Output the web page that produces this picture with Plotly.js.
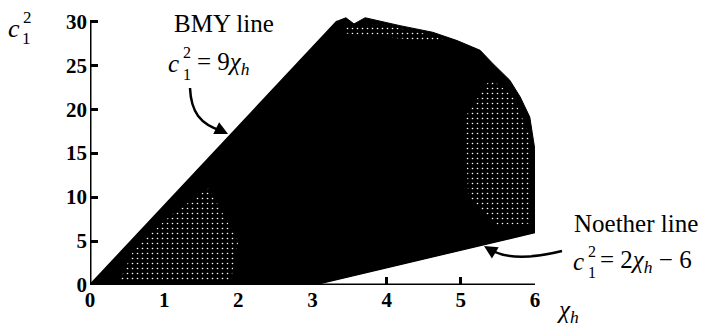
<!DOCTYPE html>
<html>
<head>
<meta charset="utf-8">
<script src="https://cdn.plot.ly/plotly-3.0.1.min.js"></script>
<style>
  html, body { margin: 0; padding: 0; background: #fff; }
  #chart { width: 706px; height: 329px; }
</style>
</head>
<body>
<div id="chart"></div>
<script>
// Outline of the region filled by the surfaces (chi_h, c1^2)
const regionChi = [0, 3.33, 3.45, 3.56, 3.71, 4.18, 4.62, 4.95, 5.26, 5.43, 5.66, 5.80, 5.93, 6.0, 6.0, 6.0, 3.0, 0];
const regionC1sq = [0, 30.0, 30.4, 29.7, 30.4, 29.5, 28.75, 27.8, 26.7, 25.2, 23.3, 21.4, 19.1, 15.3, 9.7, 6.0, 0, 0];

// Sparser (speckled) parts of the region
const sparseLowChi = [0.4, 1.9, 2.0, 1.6, 1.1, 0.6];
const sparseLowC1sq = [0.5, 0.5, 5, 11, 8, 4.2];
const sparseRightChi = [5.05, 5.4, 5.7, 5.93, 5.95, 5.5, 5.1];
const sparseRightC1sq = [19, 23.5, 21.5, 17, 7, 6.8, 10];
const sparseTopChi = [3.45, 3.9, 4.5, 4.9, 4.4, 3.8, 3.45];
const sparseTopC1sq = [29.4, 29.7, 28.6, 27.6, 27.9, 28.3, 28.6];

// Bounding lines
const bmyChi = [0, 3.333];
const bmyC1sq = [0, 30];
const noetherChi = [3, 6];
const noetherC1sq = [0, 6];

// Axis ticks
const xTicks = [0, 1, 2, 3, 4, 5, 6];
const yTicks = [0, 5, 10, 15, 20, 25, 30];

const SERIF = 'Liberation Serif, Tinos, DejaVu Serif, serif';

const traces = [
  { x: regionChi, y: regionC1sq, mode: 'lines', fill: 'toself',
    fillcolor: '#000', line: { color: '#000', width: 1 }, hoverinfo: 'skip' },
];
[[sparseLowChi, sparseLowC1sq], [sparseRightChi, sparseRightC1sq], [sparseTopChi, sparseTopC1sq]]
  .forEach(([xs, ys]) => traces.push({
    x: xs, y: ys, mode: 'none', fill: 'toself', fillcolor: '#000',
    fillpattern: { shape: '.', fgcolor: '#fff', bgcolor: '#000', size: 5, solidity: 0.08 },
    hoverinfo: 'skip'
  }));
traces.push(
  { x: bmyChi, y: bmyC1sq, mode: 'lines', line: { color: '#000', width: 2 }, hoverinfo: 'skip' },
  { x: noetherChi, y: noetherC1sq, mode: 'lines', line: { color: '#000', width: 2 }, hoverinfo: 'skip' }
);

// plot area in pixels: left 90, right 535, top 16, bottom 285
const L = 90, R = 535, T = 16, B = 285;
const px = x => (x - L) / (R - L);
const py = y => (B - y) / (B - T);

function txt(text, x, y, size, anchor) {
  return { text, xref: 'paper', yref: 'paper', x: px(x), y: py(y),
    xanchor: anchor || 'left', yanchor: 'middle', showarrow: false,
    font: { family: SERIF, size, color: '#000' } };
}
function head(x, y, ax, ay) {
  return { text: '', xref: 'paper', yref: 'paper', x: px(x), y: py(y), ax, ay,
    showarrow: true, arrowhead: 2, arrowsize: 1.2, arrowwidth: 2.2, arrowcolor: '#000', standoff: 0 };
}
function curve(pts) {
  const p = pts.map(([x, y]) => px(x).toFixed(4) + ',' + py(y).toFixed(4));
  return { type: 'path', xref: 'paper', yref: 'paper',
    path: 'M ' + p[0] + ' C ' + p[1] + ' ' + p[2] + ' ' + p[3],
    line: { color: '#000', width: 2.5 } };
}

const annotations = [
  // y-axis title c_1^2
  txt('<i>c</i>', 6, 28, 26),
  txt('2', 21, 17, 17),
  txt('1', 20, 38, 17),
  // x-axis title
  txt('<i>χ<sub>h</sub></i>', 568, 311, 25, 'center'),
  // BMY label
  txt('BMY line', 224, 24, 25, 'center'),
  txt('<i>c</i>', 166, 63, 25),
  txt('2', 181, 52, 16),
  txt('1', 181, 74, 16),
  txt('= 9<i>χ<sub>h</sub></i>', 195, 63, 25),
  head(228, 134, -10, -5),
  // Noether label
  txt('Noether line', 572, 223, 25),
  txt('<i>c</i>', 571, 261, 25),
  txt('2', 586, 251, 16),
  txt('1', 586, 272, 16),
  txt('= 2<i>χ<sub>h</sub></i> − 6', 598, 261, 25),
  head(484, 246, 10, 6),
];

const shapes = [
  curve([[190, 88], [191, 112], [200, 124], [222, 131]]),
  curve([[562, 251], [530, 259], [505, 259], [489, 249]]),
  // axis lines, ending at the last tick
  { type: 'line', xref: 'x', yref: 'y', x0: 0, y0: 0, x1: 6, y1: 0, line: { color: '#000', width: 3 } },
  { type: 'line', xref: 'x', yref: 'y', x0: 0, y0: 0, x1: 0, y1: 30, line: { color: '#000', width: 3 } },
];

const layout = {
  width: 706, height: 329,
  margin: { l: L, r: 706 - R, t: T, b: 329 - B },
  paper_bgcolor: '#fff', plot_bgcolor: '#fff',
  showlegend: false,
  font: { family: SERIF, size: 20, color: '#000' },
  xaxis: {
    range: [0, 6], tickvals: xTicks, ticktext: xTicks.map(String),
    ticks: 'inside', ticklen: 8, tickwidth: 3, tickcolor: '#000',
    showgrid: false, zeroline: false, showline: false,
    tickfont: { family: SERIF, size: 21, color: '#000', weight: 'bold' }
  },
  yaxis: {
    range: [0, 30.6], tickvals: yTicks, ticktext: yTicks.map(String),
    ticks: 'inside', ticklen: 8, tickwidth: 3, tickcolor: '#000',
    showgrid: false, zeroline: false, showline: false, ticklabelstandoff: 2,
    tickfont: { family: SERIF, size: 21, color: '#000', weight: 'bold' }
  },
  annotations, shapes
};

Plotly.newPlot('chart', traces, layout, { staticPlot: true, displayModeBar: false });
</script>
</body>
</html>
